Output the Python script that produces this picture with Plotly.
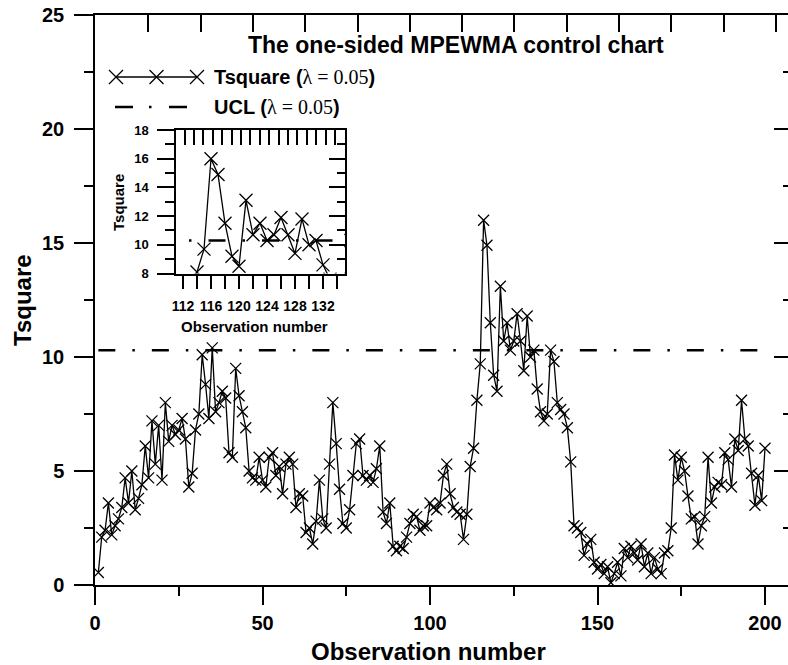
import plotly.graph_objects as go

# ---------------- data ----------------
obs = list(range(1, 201))
tsquare = [
    0.55, 2.1, 2.4, 3.6, 2.2, 2.6, 2.9, 3.4, 4.7, 3.6,
    5.0, 3.3, 3.8, 4.4, 6.1, 4.7, 7.2, 5.3, 7.0, 4.6,
    8.0, 6.3, 7.0, 6.6, 6.8, 7.3, 6.4, 4.3, 4.9, 6.8,
    7.5, 10.1, 8.8, 7.3, 10.4, 7.6, 8.0, 8.5, 8.2, 5.8,
    5.6, 9.5, 8.3, 7.6, 6.9, 5.0, 4.7, 4.6, 5.6, 4.6,
    4.3, 5.6, 5.8, 4.8, 5.2, 4.0, 5.3, 5.6, 5.3, 3.4,
    4.0, 3.9, 2.3, 2.5, 1.8, 2.8, 4.6, 2.9, 2.5, 5.3,
    8.0, 6.2, 4.2, 2.7, 2.5, 3.3, 4.8, 6.2, 6.4, 4.8,
    4.6, 4.8, 4.5, 5.1, 6.1, 3.2, 2.7, 3.6, 1.7, 1.5,
    1.7, 1.6, 2.1, 2.7, 3.1, 3.0, 2.4, 2.6, 2.6, 3.6,
    3.4, 3.3, 3.6, 4.8, 5.3, 4.0, 3.4, 3.2, 3.1, 2.0,
    3.1, 5.2, 6.0, 8.1, 9.7, 16.0, 14.9, 11.5, 9.2, 8.5,
    13.1, 10.7, 11.5, 10.3, 10.7, 11.9, 10.7, 9.4, 11.8, 10.0,
    10.3, 8.6, 7.6, 7.2, 7.5, 10.3, 9.8, 8.0, 7.7, 7.5,
    6.9, 5.4, 2.6, 2.5, 2.3, 1.3, 1.8, 2.0, 1.0, 0.7,
    0.9, 0.5, 0.8, 0.1, 0.5, 1.0, 0.4, 1.6, 1.2, 1.7,
    1.4, 1.1, 1.8, 0.8, 1.4, 0.5, 1.2, 0.7, 0.5, 1.4,
    1.5, 2.5, 5.7, 4.6, 5.6, 5.0, 3.9, 2.9, 3.0, 1.8,
    2.6, 3.0, 5.6, 3.6, 4.3, 4.5, 4.4, 5.8, 5.5, 4.3,
    6.4, 5.9, 8.1, 6.4, 6.1, 4.9, 3.5, 4.8, 3.7, 6.0,
]
assert len(tsquare) == len(obs)
ucl_value = 10.3
ucl = [ucl_value] * len(obs)

chart_title = "The one-sided MPEWMA control chart"
series_name = "Tsquare"
ucl_name = "UCL"
lambda_text = "λ = 0.05"
x_title = "Observation number"
y_title = "Tsquare"

# ---------------- geometry (pixels) ----------------
W, H = 788, 665
L, R, T, B = 95, 788, 15, 585
PX_PER_UNIT = 3.35

def fx(p):
    return (p - L) / (R - L)

def fy(p):
    return (B - p) / (B - T)

SANS = "Liberation Sans, Arial, sans-serif"
SERIF = "Liberation Serif, Times New Roman, serif"
BLACK = "black"

def bfont(size):
    return dict(family=SANS, size=size, color=BLACK, weight="bold")

fig = go.Figure()

marker_main = dict(symbol="x-thin", size=11, color=BLACK, line=dict(width=1.3, color=BLACK))
marker_inset = dict(symbol="x-thin", size=13, color=BLACK, line=dict(width=1.3, color=BLACK))
ucl_dash = "17px,17px,2.5px,17px"

# main
fig.add_trace(go.Scatter(x=obs, y=tsquare, mode="lines+markers",
                         line=dict(color=BLACK, width=1.3), marker=marker_main,
                         xaxis="x", yaxis="y", showlegend=False, hoverinfo="skip"))
fig.add_trace(go.Scatter(x=obs, y=ucl, mode="lines",
                         line=dict(color=BLACK, width=2.5, dash=ucl_dash),
                         xaxis="x", yaxis="y", showlegend=False, hoverinfo="skip"))
# inset
fig.add_trace(go.Scatter(x=obs, y=ucl, mode="lines",
                         line=dict(color=BLACK, width=2.5, dash=ucl_dash),
                         xaxis="x3", yaxis="y3", showlegend=False, hoverinfo="skip"))
fig.add_trace(go.Scatter(x=obs, y=tsquare, mode="lines+markers",
                         line=dict(color=BLACK, width=1.3), marker=marker_inset,
                         xaxis="x3", yaxis="y3", showlegend=False, hoverinfo="skip"))
# dummy traces so decorative axes get drawn
fig.add_trace(go.Scatter(x=[None], y=[None], xaxis="x2", yaxis="y2", showlegend=False, hoverinfo="skip"))
fig.add_trace(go.Scatter(x=[None], y=[None], xaxis="x4", yaxis="y4", showlegend=False, hoverinfo="skip"))

# legend keys (pixel overlay axes)
fig.add_trace(go.Scatter(x=[116, 156.5, 197], y=[77, 77, 77], mode="lines+markers",
                         line=dict(color=BLACK, width=1.3),
                         marker=dict(symbol="x-thin", size=14, color=BLACK, line=dict(width=1.3, color=BLACK)),
                         xaxis="x5", yaxis="y5", showlegend=False, hoverinfo="skip", cliponaxis=False))
fig.add_trace(go.Scatter(x=[115, 187], y=[107, 107], mode="lines",
                         line=dict(color=BLACK, width=2.5, dash="18px,16px,2.5px,17.5px"),
                         xaxis="x5", yaxis="y5", showlegend=False, hoverinfo="skip"))

axis_common = dict(showgrid=False, zeroline=False, linecolor=BLACK, linewidth=1.5,
                   tickcolor=BLACK, tickwidth=1.5)

inset_x_dom = [fx(176), fx(345)]
inset_y_dom = [fy(273.5), fy(130)]
inset_xmin = 111
inset_xmax = inset_xmin + (345 - 176) / 7.0

fig.update_layout(
    width=W, height=H,
    margin=dict(l=L, r=W - R, t=T, b=H - B, pad=0),
    paper_bgcolor="white", plot_bgcolor="white",
    showlegend=False,
    xaxis=dict(domain=[0, 1], anchor="y", range=[0, (R - L) / PX_PER_UNIT],
               showline=True, ticks="outside", ticklen=18, dtick=50, tick0=0,
               minor=dict(dtick=25, ticks="outside", ticklen=9, tickcolor=BLACK, tickwidth=1.5, showgrid=False),
               tickfont=bfont(20), ticklabelstandoff=1, **axis_common),
    yaxis=dict(domain=[0, 1], anchor="x", range=[0, 25],
               showline=True, ticks="outside", ticklen=19, dtick=5, tick0=0,
               minor=dict(dtick=2.5, ticks="outside", ticklen=9, tickcolor=BLACK, tickwidth=1.5, showgrid=False),
               tickfont=bfont(20), ticklabelstandoff=6, **axis_common),
    xaxis2=dict(overlaying="x", side="top", anchor="y", range=[0, R - L],
                tick0=1, dtick=52.3, ticks="inside", ticklen=17, showticklabels=False,
                showline=True, **axis_common),
    yaxis2=dict(overlaying="y", side="right", anchor="x", range=[0, 25],
                dtick=5, tick0=0, ticks="inside", ticklen=14, showticklabels=False,
                minor=dict(dtick=2.5, ticks="inside", ticklen=5, tickcolor=BLACK, tickwidth=1.5, showgrid=False),
                showline=False, **axis_common),
    xaxis3=dict(domain=inset_x_dom, anchor="y3", range=[inset_xmin, inset_xmax],
                showline=True, ticks="outside", ticklen=14, dtick=4, tick0=112,
                minor=dict(dtick=2, ticks="outside", ticklen=14, tickcolor=BLACK, tickwidth=1.5, showgrid=False),
                tickfont=bfont(14), ticklabelstandoff=5, **axis_common),
    yaxis3=dict(domain=inset_y_dom, anchor="x3", range=[8, 18],
                showline=True, ticks="outside", ticklen=17, dtick=2, tick0=8,
                minor=dict(dtick=1, ticks="outside", ticklen=9, tickcolor=BLACK, tickwidth=1.5, showgrid=False),
                tickfont=bfont(13), ticklabelstandoff=6, **axis_common),
    xaxis4=dict(overlaying="x3", side="top", anchor="y3", range=[176, 345],
                tick0=184.5, dtick=9.4, ticks="inside", ticklen=15, showticklabels=False,
                showline=True, **axis_common),
    yaxis4=dict(overlaying="y3", side="right", anchor="x3", range=[8, 18],
                dtick=2, tick0=8, ticks="inside", ticklen=16, showticklabels=False,
                minor=dict(dtick=1, ticks="inside", ticklen=8, tickcolor=BLACK, tickwidth=1.5, showgrid=False),
                showline=True, **axis_common),
    xaxis5=dict(overlaying="x", anchor="y5", range=[L, R], visible=False),
    yaxis5=dict(overlaying="y", anchor="x5", range=[B, T], visible=False),
)

lam = f"<span style='font-family:{SERIF}; font-weight:normal'>{lambda_text}</span>"
annotations = [
    dict(x=fx(456), y=fy(45), text=f"<b>{chart_title}</b>", font=bfont(23),
         xanchor="center", yanchor="middle"),
    dict(x=fx(212), y=fy(77), text=f"<b>{series_name} (</b>{lam}<b>)</b>", font=dict(family=SANS, size=20, color=BLACK),
         xanchor="left", yanchor="middle"),
    dict(x=fx(212), y=fy(107), text=f"<b>{ucl_name} (</b>{lam}<b>)</b>", font=dict(family=SANS, size=20, color=BLACK),
         xanchor="left", yanchor="middle"),
    dict(x=fx(428), y=fy(651), text=f"<b>{x_title}</b>", font=bfont(24),
         xanchor="center", yanchor="middle"),
    dict(x=fx(22), y=fy(300), text=f"<b>{y_title}</b>", font=bfont(24), textangle=-90,
         xanchor="center", yanchor="middle"),
    dict(x=fx(254), y=fy(327), text=f"<b>{x_title}</b>", font=bfont(15),
         xanchor="center", yanchor="middle"),
    dict(x=fx(118), y=fy(203), text=f"<b>{y_title}</b>", font=bfont(15), textangle=-90,
         xanchor="center", yanchor="middle"),
]
for a in annotations:
    a.update(xref="paper", yref="paper", showarrow=False)
fig.update_layout(annotations=annotations)

fig.write_html("out.html", config={"displayModeBar": False})
